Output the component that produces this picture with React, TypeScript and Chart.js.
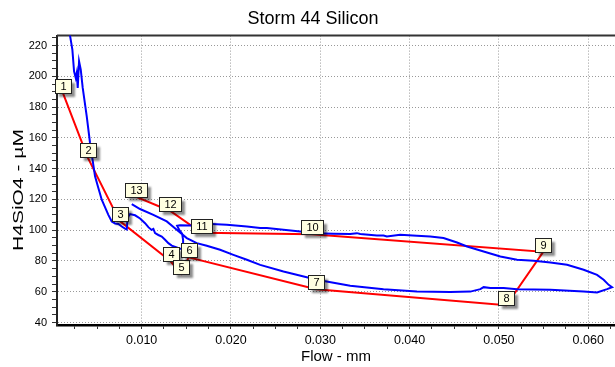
import React, { useEffect, useRef } from "react";
import { Chart, registerables } from "chart.js";

Chart.register(...registerables);

const TITLE = "Storm 44 Silicon";
const X_TITLE = "Flow - mm";
const Y_TITLE = "H4SiO4 - µM";

const X_MIN = 0.00052;
const X_MAX = 0.063;
const Y_MIN = 38.4;
const Y_MAX = 226.5;
const X_STEP = 0.0025;
const X_MAJOR = 0.01;
const Y_STEP = 5;
const Y_MAJOR = 20;

// Measured concentration (blue)
const blueX = [0.00187, 0.00198, 0.00224, 0.00243, 0.00262, 0.00273, 0.00284, 0.00299, 0.00318, 0.0034, 0.00385, 0.00422, 0.00478, 0.00515, 0.00553, 0.00627, 0.00665, 0.00702, 0.00739, 0.00777, 0.00814, 0.00833, 0.0084, 0.00851, 0.0087, 0.00926, 0.00982, 0.01038, 0.01075, 0.0111, 0.01131, 0.0115, 0.01187, 0.01225, 0.01262, 0.01299, 0.01337, 0.01393, 0.0143, 0.01453, 0.01464, 0.01464, 0.01453, 0.0142, 0.01397, 0.0143, 0.01542, 0.01654, 0.01729, 0.01953, 0.02178, 0.02327, 0.02402, 0.02588, 0.02775, 0.02962, 0.03148, 0.03335, 0.0341, 0.03447, 0.03634, 0.03708, 0.03746, 0.03895, 0.04082, 0.04231, 0.0438, 0.04531, 0.04643, 0.04829, 0.05016, 0.05203, 0.05389, 0.05576, 0.05763, 0.05949, 0.06099, 0.06173, 0.06229, 0.06267, 0.06211, 0.06099, 0.05949, 0.05576, 0.05203, 0.05053, 0.04904, 0.04829, 0.04792, 0.0468, 0.04455, 0.04082, 0.03708, 0.03335, 0.02962, 0.02588, 0.02327, 0.02178, 0.02027, 0.01878, 0.01729, 0.01617, 0.01505, 0.01393, 0.01281, 0.01131, 0.00982, 0.00889];
const blueY = [232, 226.5, 217.4, 203.3, 199.0, 202.2, 192.5, 209.8, 204.4, 192.5, 174.0, 156.7, 135.0, 127.4, 119.8, 110.0, 105.7, 104.4, 104.1, 102.4, 101.0, 100.5, 106.0, 108.9, 110.5, 109.7, 107.6, 104.6, 102.0, 100.2, 100.8, 98.1, 96.9, 95.9, 93.8, 91.6, 90.0, 88.8, 87.9, 87.9, 90.5, 93.8, 97.7, 100.3, 102.9, 103.3, 103.1, 103.9, 104.2, 103.5, 102.4, 101.4, 101.4, 100.3, 99.2, 98.1, 97.7, 97.5, 98.1, 97.5, 96.6, 96.6, 95.9, 97.0, 96.4, 95.9, 94.9, 92.0, 89.4, 86.2, 82.9, 80.8, 80.1, 79.0, 77.5, 74.3, 71.0, 67.8, 64.5, 63.0, 61.7, 59.5, 60.1, 61.3, 61.7, 62.4, 62.4, 63.0, 61.7, 60.1, 59.8, 60.1, 61.7, 63.9, 67.8, 73.2, 77.5, 80.8, 84.0, 87.3, 89.9, 91.6, 94.9, 100.3, 105.7, 110.0, 113.8, 117.0];

// Numbered samples (red)
const redX = [0.0012, 0.00394, 0.00752, 0.01324, 0.01441, 0.01526, 0.02954, 0.05083, 0.05497, 0.02904, 0.01671, 0.0132, 0.00932];
const redY = [189, 147.5, 106.1, 79.8, 71.7, 82.4, 61.6, 51.2, 86.0, 97.4, 98.3, 112.5, 121.8];
const redLabels = ["1", "2", "3", "4", "5", "6", "7", "8", "9", "10", "11", "12", "13"];

const FONT = '"Liberation Sans", Arial, sans-serif';

const isMultiple = (v: number, m: number) => Math.abs(v / m - Math.round(v / m)) < 1e-6;

const extrasPlugin = {
  id: "extras",
  beforeDatasetsDraw(chart: any) {
    const { ctx, chartArea } = chart;
    ctx.save();
    ctx.strokeStyle = "#333";
    ctx.lineWidth = 2;
    ctx.beginPath();
    ctx.moveTo(chartArea.left, chartArea.top);
    ctx.lineTo(chartArea.right, chartArea.top);
    ctx.stroke();
    ctx.restore();
  },
  afterDatasetsDraw(chart: any) {
    const { ctx } = chart;
    const xs = chart.scales.x;
    const ys = chart.scales.y;
    ctx.save();
    ctx.font = `11px ${FONT}`;
    redX.forEach((vx, i) => {
      const px = xs.getPixelForValue(vx);
      const py = ys.getPixelForValue(redY[i]);
      const text = redLabels[i];
      const tw = ctx.measureText(text).width;
      const w = Math.round(tw + 10);
      const h = 14;
      const left = Math.round(px - w / 2) + 0.5;
      const top = Math.round(py - h) + 0.5;
      ctx.save();
      ctx.shadowColor = "rgba(0,0,0,0.45)";
      ctx.shadowOffsetX = 3;
      ctx.shadowOffsetY = 3;
      ctx.shadowBlur = 2;
      ctx.fillStyle = "#ffffe1";
      ctx.fillRect(left, top, w, h);
      ctx.restore();
      ctx.strokeStyle = "#222";
      ctx.lineWidth = 1;
      ctx.strokeRect(left, top, w, h);
      ctx.fillStyle = "#000";
      ctx.textAlign = "center";
      ctx.textBaseline = "middle";
      ctx.fillText(text, left + w / 2, top + h / 2 + 0.5);
    });
    ctx.restore();
  },
  afterDraw(chart: any) {
    const { ctx } = chart;
    ctx.save();
    ctx.fillStyle = "#000";
    ctx.textAlign = "center";
    ctx.textBaseline = "middle";
    ctx.font = `18px ${FONT}`;
    ctx.fillText(TITLE, 313, 19.5);
    ctx.font = `15px ${FONT}`;
    const tw = ctx.measureText(Y_TITLE).width;
    ctx.translate(18.5, 190);
    ctx.rotate(-Math.PI / 2);
    ctx.scale(122 / tw, 1);
    ctx.fillText(Y_TITLE, 0, 0);
    ctx.restore();
  },
};

export default function App() {
  const ref = useRef<HTMLCanvasElement | null>(null);
  useEffect(() => {
    if (!ref.current) return;
    const chart = new Chart(ref.current, {
      type: "scatter",
      data: {
        datasets: [
          {
            label: "Samples",
            data: redX.map((x, i) => ({ x, y: redY[i] })),
            showLine: true,
            borderColor: "#ff0000",
            backgroundColor: "#ff0000",
            borderWidth: 2,
            pointRadius: 0,
            tension: 0,
            order: 2,
          },
          {
            label: "Silicon",
            data: blueX.map((x, i) => ({ x, y: blueY[i] })),
            showLine: true,
            borderColor: "#0000ff",
            backgroundColor: "#0000ff",
            borderWidth: 2,
            pointRadius: 0,
            tension: 0,
            order: 1,
          },
        ],
      },
      options: {
        responsive: false,
        maintainAspectRatio: false,
        devicePixelRatio: 1,
        animation: false,
        layout: { padding: 0 },
        plugins: {
          legend: { display: false },
          tooltip: { enabled: false },
          title: {
            display: true,
            text: TITLE,
            color: "rgba(0,0,0,0)",
            font: { family: FONT, size: 18, weight: "normal" },
            padding: { top: 8, bottom: 6 },
          },
        },
        scales: {
          x: {
            type: "linear",
            position: "bottom",
            min: X_MIN,
            max: X_MAX,
            afterFit: (s: any) => {
              s.height = 42;
            },
            ticks: {
              stepSize: X_STEP,
              autoSkip: false,
              includeBounds: false,
              maxRotation: 0,
              color: "#000",
              padding: 4,
              font: { family: FONT, size: 12.5 },
              callback: (v: any) => (isMultiple(Number(v), X_MAJOR) ? Number(v).toFixed(3) : ""),
            },
            grid: {
              color: (c: any) => (c.tick && isMultiple(c.tick.value, X_MAJOR) ? "#999" : "rgba(0,0,0,0)"),
              tickColor: "#333",
              tickLength: 4,
              lineWidth: 1,
            },
            border: { display: true, color: "#000", width: 2.5, dash: [1, 2] },
            title: {
              display: true,
              text: X_TITLE,
              color: "#000",
              font: { family: FONT, size: 15 },
              padding: { top: 0, bottom: 1 },
            },
          },
          y: {
            type: "linear",
            min: Y_MIN,
            max: Y_MAX,
            afterFit: (s: any) => {
              s.width = 57;
            },
            ticks: {
              stepSize: Y_STEP,
              autoSkip: false,
              includeBounds: false,
              color: "#000",
              padding: 5,
              font: { family: FONT, size: 11 },
              callback: (v: any) => (isMultiple(Number(v), Y_MAJOR) ? String(Math.round(Number(v))) : ""),
            },
            grid: {
              color: (c: any) => (c.tick && isMultiple(c.tick.value, Y_MAJOR) ? "#999" : "rgba(0,0,0,0)"),
              tickColor: "#333",
              tickLength: 5,
              lineWidth: 1,
            },
            border: { display: true, color: "#222", width: 2, dash: [1, 2] },
            title: { display: false },
          },
        },
      },
      plugins: [extrasPlugin],
    } as any);
    return () => chart.destroy();
  }, []);
  return (
    <div style={{ position: "fixed", left: 0, top: 0, width: 615, height: 367, background: "#fff" }}>
      <canvas ref={ref} width={615} height={367} style={{ display: "block", width: 615, height: 367 }} />
    </div>
  );
}
